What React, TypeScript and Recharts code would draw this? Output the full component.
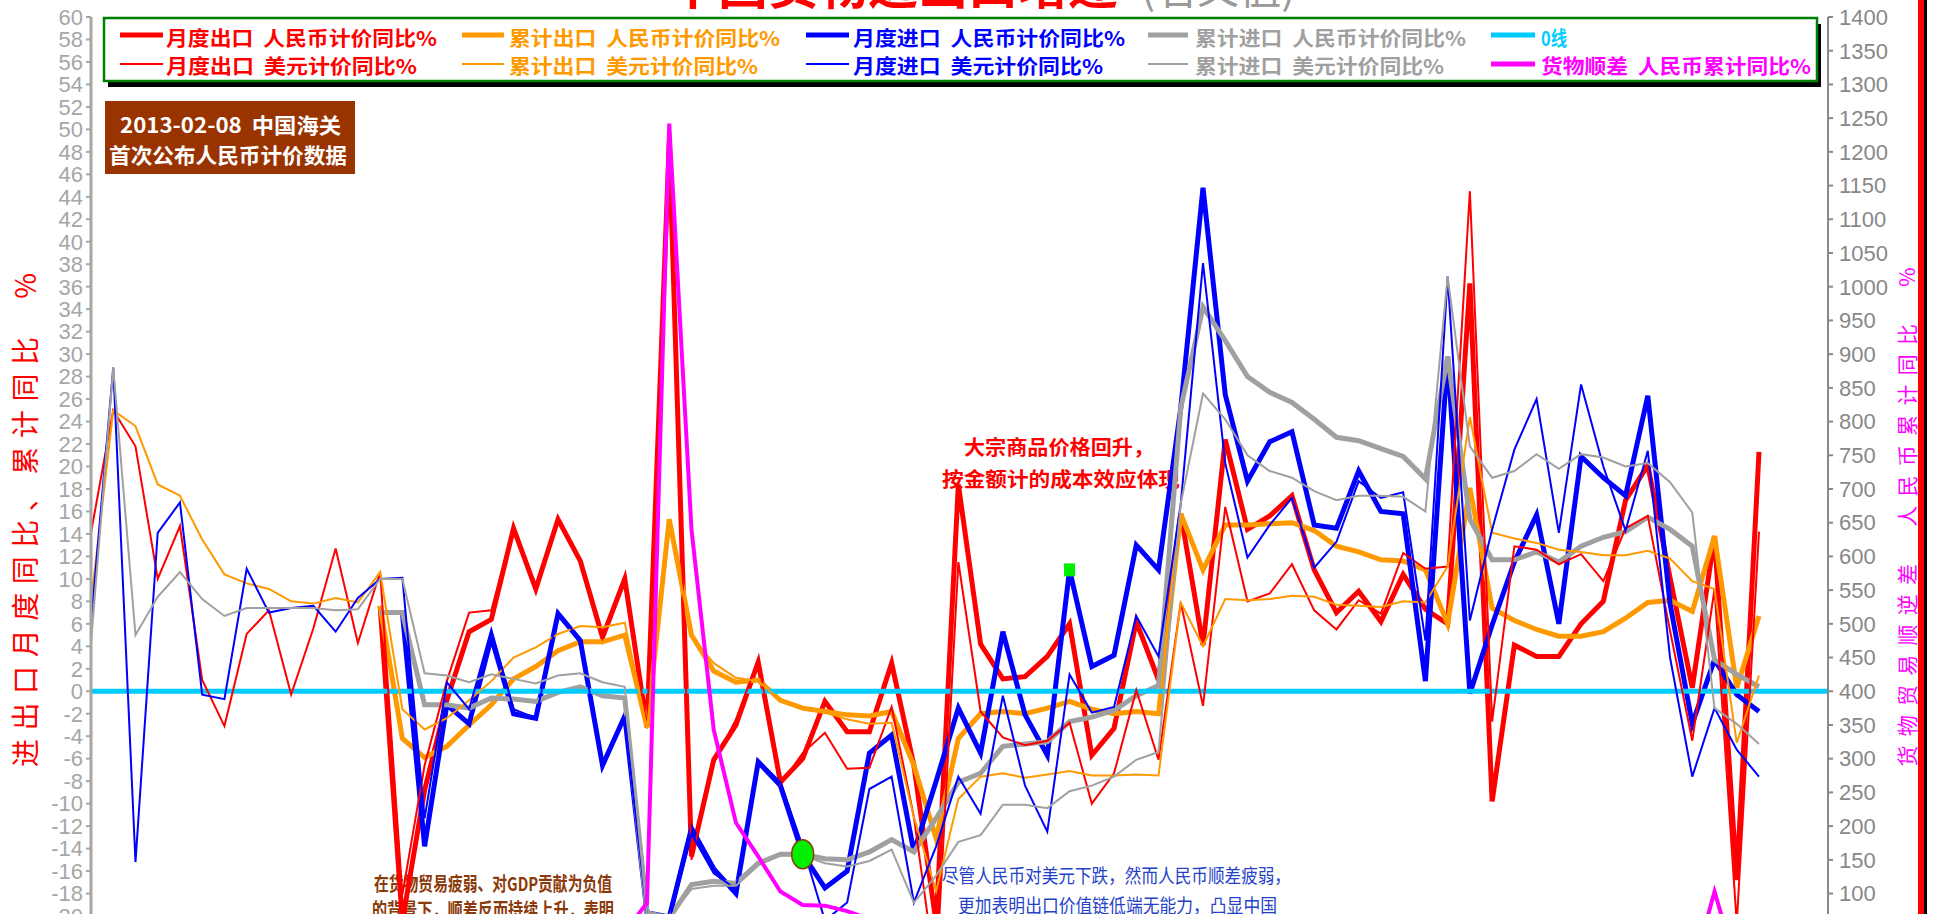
import { LineChart, Line, XAxis, YAxis, ReferenceLine, ReferenceDot } from 'recharts'

const months = [
  '2012-12',
  '2013-01', '2013-02', '2013-03', '2013-04', '2013-05', '2013-06', '2013-07', '2013-08', '2013-09', '2013-10', '2013-11', '2013-12',
  '2014-01', '2014-02', '2014-03', '2014-04', '2014-05', '2014-06', '2014-07', '2014-08', '2014-09', '2014-10', '2014-11', '2014-12',
  '2015-01', '2015-02', '2015-03', '2015-04', '2015-05', '2015-06', '2015-07', '2015-08', '2015-09', '2015-10', '2015-11', '2015-12',
  '2016-01', '2016-02', '2016-03', '2016-04', '2016-05', '2016-06', '2016-07', '2016-08', '2016-09', '2016-10', '2016-11', '2016-12',
  '2017-01', '2017-02', '2017-03', '2017-04', '2017-05', '2017-06', '2017-07', '2017-08', '2017-09', '2017-10', '2017-11', '2017-12',
  '2018-01', '2018-02', '2018-03', '2018-04', '2018-05', '2018-06', '2018-07', '2018-08', '2018-09', '2018-10', '2018-11', '2018-12',
  '2019-01', '2019-02', '2019-03',
]

// RMB-denominated series only exist from 2014-01 (13 months of nulls before)
const noRmb = Array(13).fill(null)

// monthly export, USD yoy %
const expUsdM = [
  14.1,
  25.0, 21.8, 10.0, 14.7, 1.0, -3.1, 5.1, 7.2, -0.3, 5.6, 12.7, 4.3,
  10.6, -18.1, -6.6, 0.9, 7.0, 7.2, 14.5, 9.4, 15.3, 11.6, 4.7, 9.7,
  -3.3, 48.3, -15.0, -6.4, -2.5, 2.8, -8.3, -5.5, -3.7, -6.9, -6.8, -1.4,
  -11.2, -25.4, 11.5, -1.8, -4.1, -4.8, -4.4, -2.8, -10.0, -7.3, 0.1, -6.1,
  7.9, -1.3, 16.4, 8.0, 8.7, 11.3, 7.2, 5.5, 8.1, 6.9, 12.3, 10.9,
  11.1, 44.5, -2.7, 12.9, 12.6, 11.3, 12.2, 9.8, 14.5, 15.6, 5.4, -4.4,
  9.1, -20.7, 14.2,
]
// monthly export, RMB yoy %
const expRmbM = [
  ...noRmb,
  7.6, -20.5, -8.8, -0.8, 5.3, 6.4, 14.5, 9.1, 15.3, 11.6, 4.8, 10.0,
  -3.2, 48.9, -14.7, -6.1, -3.0, 2.6, -8.1, -6.0, -0.9, -3.6, -3.6, 2.5,
  -6.6, -20.6, 18.4, 4.2, 1.1, 1.3, 3.1, 6.0, -5.7, -3.3, 6.2, 1.0,
  15.8, 4.1, 22.4, 14.4, 15.6, 17.4, 10.8, 7.0, 8.9, 6.2, 10.4, 7.3,
  6.0, 36.3, -9.8, 4.1, 3.1, 3.1, 6.0, 8.0, 17.0, 20.1, 10.1, 0.3,
  13.8, -16.8, 21.3,
]
// monthly import, USD yoy %
const impUsdM = [
  6.0,
  28.8, -15.2, 14.1, 16.8, -0.3, -0.7, 10.9, 7.0, 7.4, 7.6, 5.3, 8.3,
  10.0, 10.1, -11.3, 0.8, -1.6, 5.5, -1.6, -2.4, 7.0, 4.6, -6.7, -2.4,
  -19.9, -20.5, -12.7, -16.2, -17.6, -6.1, -8.1, -13.8, -20.4, -18.8, -8.7, -7.6,
  -18.8, -13.8, -7.6, -10.9, -0.4, -8.4, -12.5, 1.5, -1.9, -1.4, 6.7, 3.1,
  16.7, 38.1, 20.3, 11.9, 14.8, 17.2, 11.0, 13.3, 18.7, 17.2, 17.7, 4.5,
  36.9, 6.3, 14.4, 21.5, 26.0, 14.1, 27.3, 20.0, 14.3, 21.4, 3.0, -7.6,
  -1.5, -5.2, -7.6,
]
// monthly import, RMB yoy %
const impRmbM = [
  ...noRmb,
  7.0, 7.0, -13.8, -1.2, -2.9, 4.8, -2.0, -2.4, 6.9, 4.5, -6.6, -2.2,
  -19.7, -20.1, -12.2, -15.8, -18.0, -6.3, -8.4, -14.5, -17.5, -16.0, -5.5, -3.9,
  -14.3, -8.0, -1.5, -5.5, 5.3, -2.1, -5.7, 10.8, 2.2, 3.2, 13.0, 10.8,
  25.2, 44.8, 26.4, 18.7, 22.2, 23.1, 14.8, 14.5, 19.6, 16.0, 15.8, 0.9,
  29.8, -0.2, 5.9, 11.5, 15.7, 6.0, 20.9, 19.0, 17.4, 26.3, 7.8, -2.9,
  2.8, -0.3, -1.8,
]
// cumulative export, USD yoy %
const expUsdC = [
  7.9,
  25.0, 23.6, 18.4, 17.4, 13.5, 10.4, 9.6, 9.1, 8.0, 7.8, 8.3, 7.9,
  10.6, -1.6, -3.4, -2.4, -0.8, 0.9, 3.0, 3.9, 5.1, 5.8, 5.7, 6.1,
  -3.3, 15.0, 4.9, 2.5, 1.2, 0.9, -0.8, -1.6, -1.9, -2.5, -2.9, -2.8,
  -11.2, -17.8, -9.6, -7.6, -7.3, -7.7, -7.4, -7.1, -7.5, -7.5, -7.4, -7.5,
  7.9, 4.0, 8.2, 8.1, 8.2, 8.5, 8.4, 7.7, 7.6, 7.5, 8.0, 7.9,
  11.1, 24.4, 14.1, 13.6, 13.2, 12.6, 12.4, 12.1, 12.1, 12.5, 11.8, 9.8,
  9.1, -4.6, 1.4,
]
// cumulative export, RMB yoy %
const expRmbC = [
  ...noRmb,
  7.6, -4.2, -5.9, -4.9, -3.0, -1.2, 1.1, 2.2, 3.6, 4.4, 4.4, 5.0,
  -3.2, 15.3, 5.0, 1.8, 0.8, 1.0, -0.8, -1.5, -1.8, -2.1, -2.2, -1.8,
  -6.6, -13.1, -4.2, -2.0, -1.8, -2.0, -1.5, -0.9, -1.6, -2.0, -1.8, -2.0,
  15.8, 10.8, 14.8, 14.8, 14.9, 15.0, 14.3, 12.9, 12.4, 11.7, 11.6, 10.8,
  6.0, 18.1, 7.4, 6.3, 5.5, 4.9, 4.9, 5.3, 6.5, 7.9, 8.1, 7.1,
  13.8, 0.3, 6.7,
]
// cumulative import, USD yoy %
const impUsdC = [
  4.3,
  28.8, 5.0, 8.4, 10.6, 8.2, 6.7, 7.4, 7.4, 7.4, 7.4, 7.2, 7.3,
  10.0, 10.0, 1.6, 1.4, 0.8, 1.5, 1.1, 0.7, 1.4, 1.6, 0.8, 0.4,
  -19.9, -20.2, -17.6, -17.3, -17.3, -15.5, -14.6, -14.6, -15.3, -15.6, -15.1, -14.1,
  -18.8, -16.4, -13.4, -12.8, -10.1, -10.1, -10.4, -8.9, -8.4, -7.6, -6.1, -5.4,
  16.7, 26.5, 24.2, 21.0, 19.6, 19.0, 17.8, 17.0, 17.4, 17.4, 17.3, 16.0,
  36.9, 21.8, 19.0, 19.6, 21.1, 19.8, 21.1, 20.8, 20.0, 20.3, 18.6, 15.9,
  -1.5, -2.9, -4.7,
]
// cumulative import, RMB yoy %
const impRmbC = [
  ...noRmb,
  7.0, 7.0, -1.2, -1.2, -1.5, -0.6, -0.7, -0.9, -0.1, 0.4, -0.4, -0.6,
  -19.7, -20.2, -17.2, -16.9, -17.1, -15.3, -14.5, -14.5, -14.9, -15.0, -14.3, -13.2,
  -14.3, -11.3, -8.1, -7.3, -4.9, -4.7, -4.5, -2.7, -2.3, -1.7, -0.4, 0.5,
  25.2, 34.2, 31.2, 28.0, 26.6, 25.7, 24.2, 22.6, 22.3, 21.6, 20.9, 18.9,
  29.8, 15.3, 11.7, 11.7, 12.4, 11.5, 12.9, 13.7, 14.2, 15.5, 14.4, 12.9,
  2.8, 1.5, 0.4,
]
// goods trade surplus, RMB cumulative yoy % (right axis)
const surplusRmbC = [
  ...noRmb,
  12, -78, -55, -38, -2, 12, 31, 41, 48, 51, 47, 43,
  86, 1242, 640, 343, 205, 155, 103, 83, 82, 74, 62, 56,
  10, -4, -2, -3, -2, -4, -1, -4, -5, -5, -6, -9,
  -25, -40, -44, -38, -28, -23, -20, -18, -19, -18, -16, -14,
  -4, -28, -46, -38, -32, -29, -30, -31, -25, -15, -10, -18,
  103, -10, -2,
]

const leftTicks = [60, 58, 56, 54, 52, 50, 48, 46, 44, 42, 40, 38, 36, 34, 32, 30, 28, 26, 24, 22, 20,
  18, 16, 14, 12, 10, 8, 6, 4, 2, 0, -2, -4, -6, -8, -10, -12, -14, -16, -18, -20]
const rightTicks = [1400, 1350, 1300, 1250, 1200, 1150, 1100, 1050, 1000, 950, 900, 850, 800, 750, 700,
  650, 600, 550, 500, 450, 400, 350, 300, 250, 200, 150, 100]

const RED = '#ff0000'
const ORANGE = '#ff9900'
const BLUE = '#0000ff'
const GRAY = '#a0a0a0'
const CYAN = '#00ccff'
const MAGENTA = '#ff00ff'

const data = months.map((m, i) => ({
  month: m,
  expRmbM: expRmbM[i], expRmbC: expRmbC[i], impRmbM: impRmbM[i], impRmbC: impRmbC[i],
  expUsdM: expUsdM[i], expUsdC: expUsdC[i], impUsdM: impUsdM[i], impUsdC: impUsdC[i],
  surplusRmbC: surplusRmbC[i],
}))

const thickSeries = [
  { key: 'expRmbM', color: RED },
  { key: 'expRmbC', color: ORANGE },
  { key: 'impRmbM', color: BLUE },
  { key: 'impRmbC', color: GRAY },
]
const thinSeries = [
  { key: 'expUsdM', color: RED },
  { key: 'expUsdC', color: ORANGE },
  { key: 'impUsdM', color: BLUE },
  { key: 'impUsdC', color: GRAY },
]

const CJK = "'Noto Sans CJK SC', 'Noto Sans', sans-serif"
const NARROW = "'Liberation Sans Narrow', 'Liberation Sans', Arial, sans-serif"
const sp = '\u00a0\u00a0'

const legendCols = [
  { x1: 120, x2: 163, tx: 166 },
  { x1: 462, x2: 504, tx: 509 },
  { x1: 806, x2: 849, tx: 853 },
  { x1: 1148, x2: 1188, tx: 1195 },
  { x1: 1491, x2: 1535, tx: 1541 },
]
const legendItems = [
  { col: 0, row: 0, color: RED, w: 5, label: `月度出口${sp}人民币计价同比%`, len: 271 },
  { col: 1, row: 0, color: ORANGE, w: 5, label: `累计出口${sp}人民币计价同比%`, len: 271 },
  { col: 2, row: 0, color: BLUE, w: 5, label: `月度进口${sp}人民币计价同比%`, len: 272 },
  { col: 3, row: 0, color: GRAY, w: 5, label: `累计进口${sp}人民币计价同比%`, len: 271 },
  { col: 4, row: 0, color: CYAN, w: 5, label: '0线', len: 26 },
  { col: 0, row: 1, color: RED, w: 2, label: `月度出口${sp}美元计价同比%`, len: 251 },
  { col: 1, row: 1, color: ORANGE, w: 2, label: `累计出口${sp}美元计价同比%`, len: 249 },
  { col: 2, row: 1, color: BLUE, w: 2, label: `月度进口${sp}美元计价同比%`, len: 250 },
  { col: 3, row: 1, color: GRAY, w: 2, label: `累计进口${sp}美元计价同比%`, len: 249 },
  { col: 4, row: 1, color: MAGENTA, w: 5, label: `货物顺差${sp}人民币累计同比%`, len: 270 },
]

function Overlay() {
  return (
    <svg width={1936} height={914} style={{ position: 'absolute', left: 0, top: 0 }}>
      {/* title, mostly cropped at the top */}
      <text x={668} y={4} fontSize={50} fontWeight="bold" fill={RED} fontFamily={CJK}>中国货物进出口增速</text>
      <text x={1141} y={4} fontSize={42} fill="#999" fontFamily={CJK}>(名义值)</text>

      {/* legend box */}
      <rect x={108} y={24} width={1713} height={63} fill="#000" />
      <rect x={104} y={18} width={1713} height={63} fill="#fff" stroke="#008000" strokeWidth={2.5} />
      {legendItems.map((it) => {
        const c = legendCols[it.col]
        const ly = it.row === 0 ? 35 : 64
        const ty = it.row === 0 ? 37 : 65
        return (
          <g key={it.label}>
            <line x1={c.x1} x2={c.x2} y1={ly} y2={ly} stroke={it.color} strokeWidth={it.w} />
            <text x={c.tx} y={ty} dominantBaseline="central" fontSize={20} fontWeight="bold" fill={it.color}
              fontFamily={CJK} textLength={it.len} lengthAdjust="spacingAndGlyphs">{it.label}</text>
          </g>
        )
      })}

      {/* customs note */}
      <rect x={105} y={101} width={250} height={73} fill="#993300" />
      <text x={120} y={124} dominantBaseline="central" fontSize={21} fontWeight="bold" fill="#fff" fontFamily={CJK}
        textLength={221} lengthAdjust="spacingAndGlyphs">{`2013-02-08${sp}中国海关`}</text>
      <text x={109} y={154} dominantBaseline="central" fontSize={21} fontWeight="bold" fill="#fff" fontFamily={CJK}
        textLength={238} lengthAdjust="spacingAndGlyphs">首次公布人民币计价数据</text>

      {/* commodity note */}
      <text x={964} y={446} dominantBaseline="central" fontSize={20} fontWeight="bold" fill={RED} fontFamily={CJK}
        textLength={190} lengthAdjust="spacingAndGlyphs">大宗商品价格回升，</text>
      <text x={942} y={478} dominantBaseline="central" fontSize={20} fontWeight="bold" fill={RED} fontFamily={CJK}
        textLength={238} lengthAdjust="spacingAndGlyphs">按金额计的成本效应体现</text>

      {/* bottom notes, cropped */}
      <text x={374} y={882} dominantBaseline="central" fontSize={19} fontWeight="bold" fill="#8b3a0a" fontFamily={CJK}
        textLength={238} lengthAdjust="spacingAndGlyphs">在货物贸易疲弱、对GDP贡献为负值</text>
      <text x={372} y={908} dominantBaseline="central" fontSize={19} fontWeight="bold" fill="#8b3a0a" fontFamily={CJK}
        textLength={242} lengthAdjust="spacingAndGlyphs">的背景下，顺差反而持续上升，表明</text>
      <text x={942} y={874} dominantBaseline="central" fontSize={19} fill="#2442c8" fontFamily={CJK}
        textLength={349} lengthAdjust="spacingAndGlyphs">尽管人民币对美元下跌，然而人民币顺差疲弱，</text>
      <text x={958} y={904} dominantBaseline="central" fontSize={19} fill="#2442c8" fontFamily={CJK}
        textLength={319} lengthAdjust="spacingAndGlyphs">更加表明出口价值链低端无能力，凸显中国</text>

      {/* axis titles */}
      <text transform="translate(24,520) rotate(-90)" textAnchor="middle" dominantBaseline="central" fontSize={28}
        fill={RED} fontFamily={CJK} textLength={494} lengthAdjust="spacing">{`进出口月度同比、累计同比${sp}%`}</text>
      <text transform="translate(1906,517) rotate(-90)" textAnchor="middle" dominantBaseline="central" fontSize={21}
        fill={MAGENTA} fontFamily={CJK} textLength={499} lengthAdjust="spacing">{`货物贸易顺逆差${sp}人民币累计同比${sp}%`}</text>

      {/* frame edge on the right */}
      <rect x={1918} y={0} width={6} height={914} fill={RED} />
      <rect x={1924} y={0} width={3} height={914} fill="#000" />
    </svg>
  )
}

const Ellipse = (p: any) => (
  <ellipse cx={p.cx} cy={p.cy} rx={11} ry={14.5} fill="#00ee00" stroke="#8b3a0f" strokeWidth={1.5} />
)
const Square = (p: any) => (
  <rect x={p.cx - 5.5} y={p.cy - 6.5} width={11} height={13} fill="#00ee00" />
)

export default function App() {
  return (
    <div style={{ position: 'fixed', left: 0, top: 0, width: 1936, height: 914, overflow: 'hidden', background: '#fff' }}>
      <Overlay />
      <div style={{ position: 'absolute', left: 0, top: 0 }}>
        <LineChart width={1936} height={940} data={data} margin={{ top: 17, right: 0, bottom: 24, left: 0 }}>
          <XAxis dataKey="month" hide padding={{ left: 0, right: 69 }} />
          <YAxis yAxisId="left" orientation="left" width={91} domain={[-20, 60]} allowDataOverflow
            ticks={leftTicks} interval={0} tickSize={5} tickMargin={3}
            axisLine={{ stroke: '#a6a6a6', strokeWidth: 3 }} tickLine={{ stroke: '#a6a6a6', strokeWidth: 2 }}
            tick={{ fill: '#a6a6a6', fontSize: 22, fontFamily: NARROW }} />
          <YAxis yAxisId="right" orientation="right" width={108} domain={[200 / 3, 1400]} allowDataOverflow
            ticks={rightTicks} interval={0} tickSize={5} tickMargin={6}
            axisLine={{ stroke: '#888', strokeWidth: 2 }} tickLine={{ stroke: '#888', strokeWidth: 2 }}
            tick={{ fill: '#888', fontSize: 22, fontFamily: NARROW, textAnchor: 'start' }} />
          {thickSeries.map((s) => (
            <Line key={s.key} yAxisId="left" type="linear" dataKey={s.key} stroke={s.color} strokeWidth={5}
              dot={false} activeDot={false} isAnimationActive={false} />
          ))}
          <ReferenceLine yAxisId="left" y={0} stroke={CYAN} strokeWidth={5} />
          {thinSeries.map((s) => (
            <Line key={s.key} yAxisId="left" type="linear" dataKey={s.key} stroke={s.color} strokeWidth={2}
              dot={false} activeDot={false} isAnimationActive={false} />
          ))}
          <Line yAxisId="right" type="linear" dataKey="surplusRmbC" stroke={MAGENTA} strokeWidth={4}
            dot={false} activeDot={false} isAnimationActive={false} />
          <ReferenceDot yAxisId="left" x={months[32]} y={impRmbM[32]} shape={Ellipse} />
          <ReferenceDot yAxisId="left" x={months[44]} y={impRmbM[44]} shape={Square} />
        </LineChart>
      </div>
    </div>
  )
}
